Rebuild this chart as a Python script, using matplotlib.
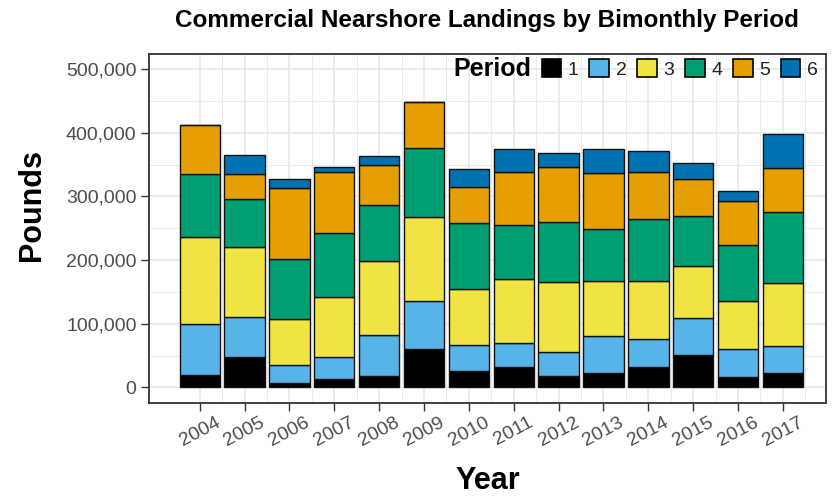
import matplotlib
matplotlib.use("Agg")
import matplotlib.pyplot as plt
import matplotlib.transforms as mtransforms
from matplotlib.patches import Patch
from matplotlib.ticker import FuncFormatter, MultipleLocator
import numpy as np

plt.rcParams['font.family'] = ['Liberation Sans', 'DejaVu Sans']

years = ['2004', '2005', '2006', '2007', '2008', '2009', '2010', '2011', '2012', '2013', '2014', '2015', '2016', '2017']
periods = ['1', '2', '3', '4', '5', '6']
p1 = [20000, 48000, 7000, 13000, 17000, 60000, 26000, 32000, 17000, 23000, 32000, 51000, 16000, 22000]
p2 = [80000, 62000, 28000, 34000, 65000, 75000, 40500, 37000, 39000, 58000, 43500, 58000, 44000, 43500]
p3 = [136000, 110000, 72000, 94500, 117000, 132000, 87500, 101000, 110000, 86000, 91500, 82000, 75000, 98000]
p4 = [100000, 76000, 94000, 101000, 88000, 110000, 104000, 85000, 94000, 81500, 97000, 79000, 88000, 112500]
p5 = [76000, 40000, 113000, 96500, 62000, 71000, 56500, 84000, 86000, 88000, 75000, 57000, 70000, 69000]
p6 = [0, 29000, 13000, 7000, 15000, 0, 28500, 35700, 22000, 38000, 33000, 25000, 15000, 54000]
colors = ['#000000', '#56B4E9', '#F0E442', '#009E73', '#E69F00', '#0072B2']

series = [p1, p2, p3, p4, p5, p6]

W, H = 838, 500
fig = plt.figure(figsize=(W / 100, H / 100), dpi=100)
ax = fig.add_axes([149 / W, (H - 402.7) / H, (826 - 149) / W, (402.7 - 53.5) / H])

x = np.arange(len(years))
bottom = np.zeros(len(years))
for vals, col in zip(series, colors):
    v = np.array(vals, dtype=float)
    ax.bar(x, v, width=0.9, bottom=bottom, color=col, edgecolor='#111111', linewidth=1.0, zorder=3)
    bottom += v

ax.set_xlim(-1.13, 13.96)
ax.set_ylim(-24200, 524800)
ax.yaxis.set_major_locator(MultipleLocator(100000))
ax.yaxis.set_minor_locator(MultipleLocator(50000))
ax.yaxis.set_major_formatter(FuncFormatter(lambda v, p: f"{int(v):,}"))
ax.set_xticks(x)
ax.set_xticks(x + 0.5, minor=True)
ax.set_xticklabels(years, rotation=28, ha='center', va='top', fontsize=14, color='#4D4D4D')
shift = mtransforms.ScaledTranslation(5 / 100, 0, fig.dpi_scale_trans)
for lbl in ax.get_xticklabels():
    lbl.set_transform(lbl.get_transform() + shift)
ax.tick_params(axis='y', labelsize=14, labelcolor='#4D4D4D', pad=3)
ax.tick_params(axis='x', pad=2)
ax.tick_params(axis='both', which='major', color='#333333', length=6, width=1)
ax.tick_params(axis='both', which='minor', length=0)
ax.grid(True, which='major', color='#EBEBEB', linewidth=1.3, zorder=0)
ax.grid(True, which='minor', color='#EBEBEB', linewidth=0.7, zorder=0)
ax.set_axisbelow(True)
for s in ax.spines.values():
    s.set_color('#333333')
    s.set_linewidth(1.3)

fig.text(488 / W, 1 - 481 / H, 'Year', ha='center', va='center', fontsize=22, fontweight='bold')
fig.text(32 / W, 1 - 205 / H, 'Pounds', ha='center', va='center', rotation=90, fontsize=22, fontweight='bold')
fig.text(486.5 / W, 1 - 20 / H, 'Commercial Nearshore Landings by Bimonthly Period',
         ha='center', va='center', fontsize=17.5, fontweight='bold')

handles = [Patch(facecolor=c, edgecolor='black', linewidth=1.2) for c in colors]
leg = ax.legend(handles, periods, ncol=6, loc='center right',
                bbox_to_anchor=(818 / W, 1 - 69 / H), bbox_transform=fig.transFigure,
                frameon=False, fontsize=14, handlelength=1.0, handleheight=1.0,
                handletextpad=0.35, columnspacing=0.55, borderaxespad=0, borderpad=0)
for t in leg.get_texts():
    t.set_color('#222222')
fig.text(492 / W, 1 - 69 / H, 'Period', ha='center', va='center', fontsize=18, fontweight='bold')

fig.savefig('out.png', dpi=100)
